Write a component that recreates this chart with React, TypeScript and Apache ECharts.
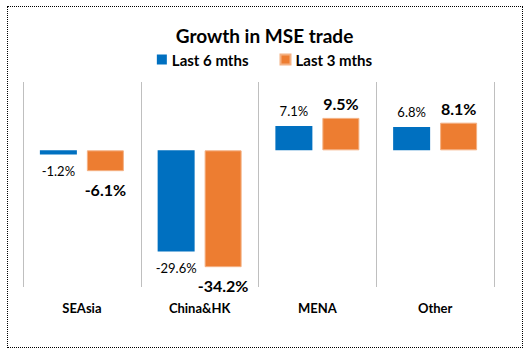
import React, { useEffect, useRef } from "react";
import * as echarts from "echarts";

const categories = ["SEAsia", "China&HK", "MENA", "Other"];
const last6 = [-1.2, -29.6, 7.1, 6.8];
const last3 = [-6.1, -34.2, 9.5, 8.1];
const seriesNames = ["Last 6 mths", "Last 3 mths"];

const FONT = "Lato, 'Noto Sans', sans-serif";

export default function App() {
  const ref = useRef<HTMLDivElement>(null);
  useEffect(() => {
    const chart = echarts.init(ref.current!, undefined, { renderer: "svg" });
    const mk = (vals: number[], posDist: number, negDist: number) =>
      vals.map((v) => ({
        value: v,
        label: {
          position: v >= 0 ? "top" : "bottom",
          distance: v >= 0 ? posDist : negDist,
        },
      }));
    chart.setOption({
      animation: false,
      title: {
        text: "Growth in MSE trade",
        left: "center",
        top: 21,
        textStyle: { fontFamily: FONT, fontSize: 19, fontWeight: "bold", color: "#000" },
      },
      legend: {
        top: 47,
        left: "center",
        itemWidth: 10,
        itemHeight: 10,
        itemGap: 31,
        icon: "rect",
        textStyle: { fontFamily: FONT, fontSize: 15, fontWeight: "bold", color: "#000" },
        data: seriesNames,
      },
      grid: { left: 23, right: 35, top: 82, bottom: 71, containLabel: false },
      xAxis: {
        type: "category",
        data: categories,
        axisLine: { show: false },
        axisTick: { show: false },
        splitLine: { show: true, lineStyle: { color: "#bfbfbf", width: 1 } },
        axisLabel: {
          margin: 14,
          fontFamily: FONT,
          fontSize: 13,
          fontWeight: "bold",
          color: "#000",
        },
      },
      yAxis: {
        type: "value",
        min: -40,
        max: 20,
        show: false,
        splitLine: { show: false },
      },
      series: [
        {
          name: seriesNames[0],
          type: "bar",
          data: mk(last6, 9, 10),
          barWidth: 37,
          barGap: "27%",
          itemStyle: { color: "#0070c0" },
          label: {
            show: true,
            fontFamily: FONT,
            fontSize: 13,
            color: "#000",
            formatter: (p: any) => p.value.toFixed(1) + "%",
          },
        },
        {
          name: seriesNames[1],
          type: "bar",
          data: mk(last3, 6, 10),
          barWidth: 37,
          itemStyle: { color: "#ed7d31", borderColor: "#f4b183", borderWidth: 1 },
          label: {
            show: true,
            fontFamily: FONT,
            fontSize: 16,
            fontWeight: "bold",
            color: "#000",
            formatter: (p: any) => p.value.toFixed(1) + "%",
          },
        },
      ],
    });
    return () => chart.dispose();
  }, []);
  return (
    <div style={{ position: "absolute", left: 0, top: 0, width: 529, height: 358, background: "#fff" }}>
      <div ref={ref} style={{ position: "absolute", left: 0, top: 0, width: 529, height: 358 }} />
      <div
        style={{
          position: "absolute",
          left: 7,
          top: 6,
          width: 514,
          height: 340,
          border: "1px dotted #000",
          pointerEvents: "none",
        }}
      />
    </div>
  );
}
